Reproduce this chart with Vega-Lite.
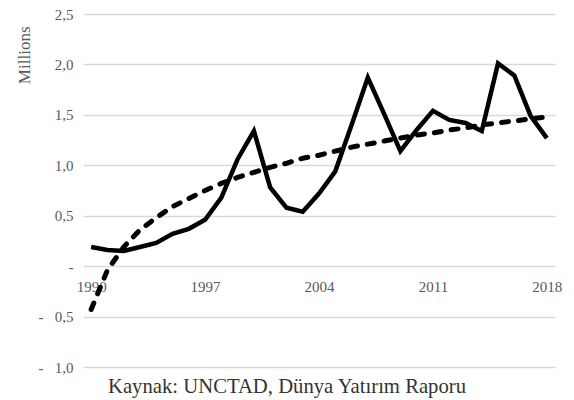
{
  "$schema": "https://vega.github.io/schema/vega-lite/v6.json",
  "width": 472,
  "height": 353,
  "autosize": "none",
  "padding": {"left": 83, "top": 14, "right": 19, "bottom": 33},
  "background": "white",
  "config": {
    "view": {"stroke": null},
    "font": "'Liberation Serif', 'Times New Roman', serif"
  },
  "title": {
    "text": "Kaynak: UNCTAD, Dünya Yatırım Raporu",
    "orient": "bottom",
    "anchor": "start",
    "frame": "group",
    "dx": 25,
    "offset": 2,
    "font": "'Liberation Serif', 'Times New Roman', serif",
    "fontSize": 20.7,
    "fontWeight": "normal",
    "color": "#333333"
  },
  "data": {
    "values": [
      {"year": 1990, "fdi": 0.19, "trend": -0.43},
      {"year": 1991, "fdi": 0.16, "trend": -0.04},
      {"year": 1992, "fdi": 0.15, "trend": 0.19},
      {"year": 1993, "fdi": 0.19, "trend": 0.36},
      {"year": 1994, "fdi": 0.23, "trend": 0.48},
      {"year": 1995, "fdi": 0.32, "trend": 0.59},
      {"year": 1996, "fdi": 0.37, "trend": 0.67},
      {"year": 1997, "fdi": 0.46, "trend": 0.75},
      {"year": 1998, "fdi": 0.68, "trend": 0.82},
      {"year": 1999, "fdi": 1.06, "trend": 0.88},
      {"year": 2000, "fdi": 1.34, "trend": 0.93},
      {"year": 2001, "fdi": 0.78, "trend": 0.98},
      {"year": 2002, "fdi": 0.58, "trend": 1.02},
      {"year": 2003, "fdi": 0.54, "trend": 1.07},
      {"year": 2004, "fdi": 0.72, "trend": 1.1},
      {"year": 2005, "fdi": 0.94, "trend": 1.14},
      {"year": 2006, "fdi": 1.4, "trend": 1.18},
      {"year": 2007, "fdi": 1.87, "trend": 1.21},
      {"year": 2008, "fdi": 1.51, "trend": 1.24},
      {"year": 2009, "fdi": 1.14, "trend": 1.27},
      {"year": 2010, "fdi": 1.35, "trend": 1.3},
      {"year": 2011, "fdi": 1.54, "trend": 1.32},
      {"year": 2012, "fdi": 1.45, "trend": 1.35},
      {"year": 2013, "fdi": 1.42, "trend": 1.37},
      {"year": 2014, "fdi": 1.34, "trend": 1.4},
      {"year": 2015, "fdi": 2.01, "trend": 1.42},
      {"year": 2016, "fdi": 1.89, "trend": 1.44},
      {"year": 2017, "fdi": 1.49, "trend": 1.46},
      {"year": 2018, "fdi": 1.27, "trend": 1.48}
    ]
  },
  "encoding": {
    "x": {
      "field": "year",
      "type": "quantitative",
      "scale": {"domain": [1989.5, 2018.5], "nice": false, "zero": false},
      "axis": {
        "values": [1990, 1997, 2004, 2011, 2018],
        "format": "d",
        "title": null,
        "domain": false,
        "ticks": false,
        "grid": false,
        "offset": -101,
        "labelPadding": 13,
        "labelFont": "'Liberation Serif', 'Times New Roman', serif",
        "labelFontSize": 15,
        "labelColor": "#595959"
      }
    }
  },
  "layer": [
    {
      "mark": {"type": "line", "color": "black", "strokeWidth": 5, "strokeDash": [7, 10], "strokeCap": "round"},
      "encoding": {
        "y": {
          "field": "trend",
          "type": "quantitative",
          "scale": {"domain": [-1, 2.5], "nice": false, "zero": false},
          "axis": {
            "values": [-1, -0.5, 0, 0.5, 1, 1.5, 2, 2.5],
            "labelExpr": "datum.value == 0 ? '-' : (datum.value < 0 ? '-\u00a0\u00a0\u00a0' + replace(format(-datum.value, '.1f'), '.', ',') : replace(format(datum.value, '.1f'), '.', ','))",
            "title": "Millions",
            "titleAnchor": "end",
            "titleAlign": "right",
            "titleY": 12,
            "titlePadding": 5,
            "titleFont": "'Liberation Serif', 'Times New Roman', serif",
            "titleFontSize": 17,
            "titleFontWeight": "normal",
            "titleColor": "#595959",
            "domain": false,
            "ticks": false,
            "grid": true,
            "gridColor": "#d9d9d9",
            "gridWidth": 1.6,
            "labelPadding": 10,
            "labelFont": "'Liberation Serif', 'Times New Roman', serif",
            "labelFontSize": 15,
            "labelColor": "#595959"
          }
        }
      }
    },
    {
      "mark": {"type": "line", "color": "black", "strokeWidth": 4.5, "strokeJoin": "miter"},
      "encoding": {
        "y": {"field": "fdi", "type": "quantitative"}
      }
    }
  ]
}
